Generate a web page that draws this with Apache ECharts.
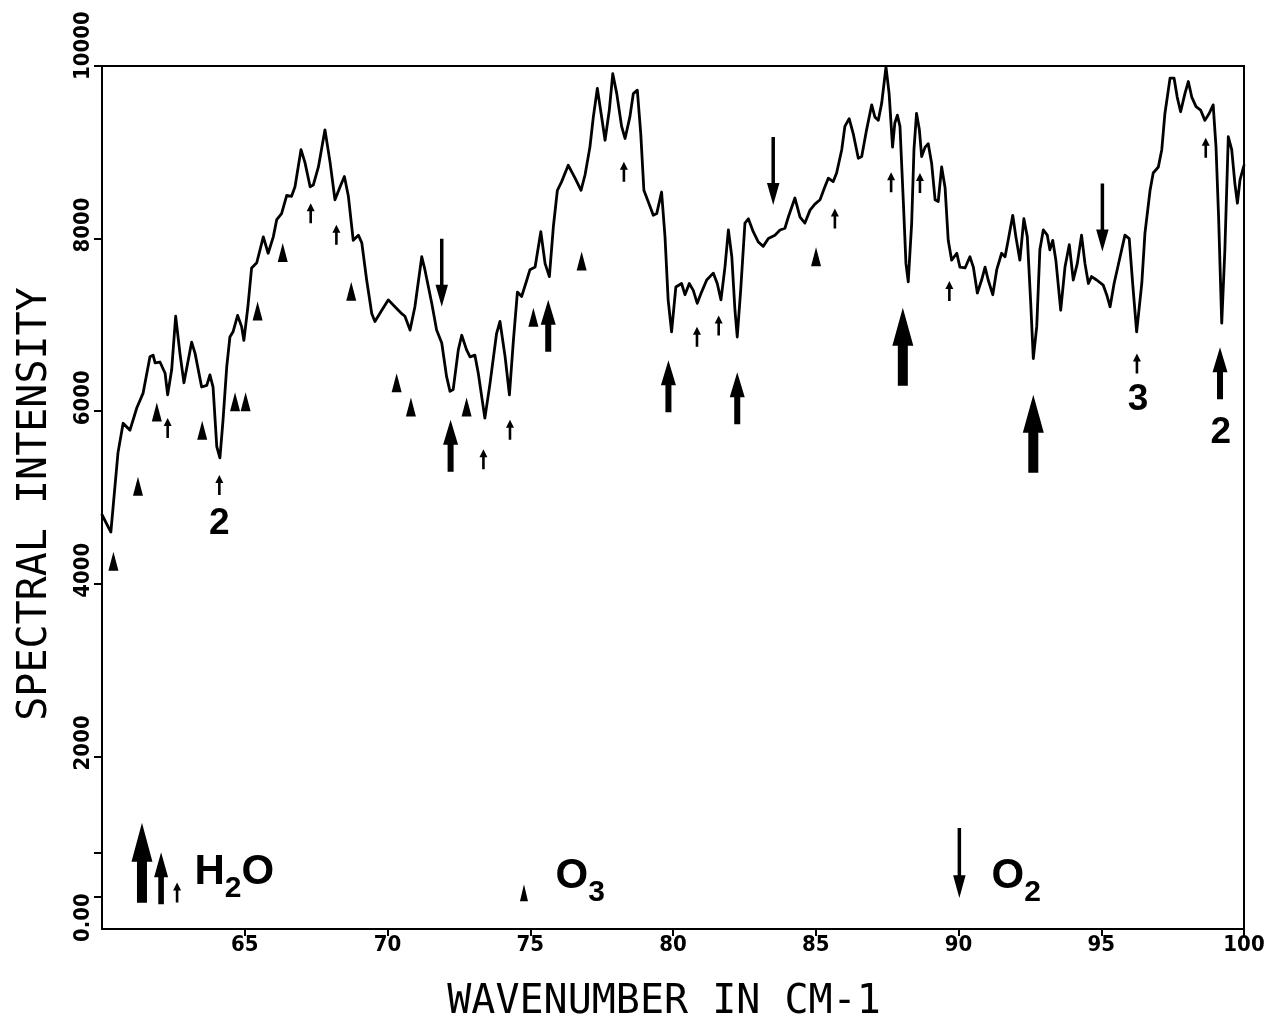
<!DOCTYPE html>
<html>
<head>
<meta charset="utf-8">
<script src="https://cdn.jsdelivr.net/npm/echarts@6/dist/echarts.min.js"></script>
<style>
  html, body { margin: 0; padding: 0; background: #ffffff; }
  #chart { width: 1270px; height: 1021px; }
</style>
</head>
<body>
<div id="chart"></div>
<script>
// Measured spectrum: wavenumber (cm-1) and spectral intensity
const wavenumber = [
  60.00,60.31,60.56,60.74,60.98,61.22,61.44,61.68,61.79,61.86,
  62.03,62.21,62.30,62.44,62.58,62.73,62.87,63.14,63.26,63.49,
  63.67,63.78,63.89,64.02,64.13,64.24,64.37,64.48,64.59,64.75,
  64.89,64.97,65.11,65.24,65.42,65.65,65.82,66.00,66.12,66.29,
  66.47,66.64,66.76,66.97,67.11,67.29,67.40,67.58,67.81,67.99,
  68.16,68.34,68.49,68.63,68.80,68.98,69.10,69.27,69.45,69.56,
  69.80,70.03,70.26,70.50,70.61,70.79,70.96,71.20,71.31,71.55,
  71.72,71.90,72.07,72.19,72.30,72.48,72.60,72.77,72.89,73.06,
  73.18,73.41,73.59,73.82,73.94,74.12,74.27,74.41,74.55,74.70,
  74.88,74.99,75.17,75.37,75.52,75.67,75.81,75.95,76.10,76.33,
  76.57,76.78,76.92,77.09,77.21,77.35,77.50,77.62,77.77,77.89,
  78.03,78.20,78.32,78.49,78.61,78.75,78.87,78.98,79.13,79.31,
  79.43,79.60,79.72,79.83,79.95,80.10,80.30,80.42,80.57,80.71,
  80.85,81.00,81.18,81.41,81.55,81.68,81.82,81.94,82.06,82.17,
  82.25,82.37,82.52,82.64,82.81,82.99,83.16,83.34,83.57,83.75,
  83.92,84.04,84.27,84.45,84.62,84.80,84.97,85.15,85.32,85.44,
  85.61,85.73,85.91,86.02,86.17,86.31,86.49,86.61,86.78,86.96,
  87.07,87.19,87.31,87.46,87.57,87.69,87.77,87.86,87.95,88.07,
  88.16,88.24,88.36,88.44,88.53,88.63,88.71,88.83,88.94,89.06,
  89.18,89.29,89.41,89.53,89.64,89.76,89.94,90.05,90.23,90.40,
  90.52,90.66,90.81,90.93,91.04,91.20,91.34,91.51,91.63,91.74,
  91.90,92.01,92.15,92.29,92.41,92.53,92.62,92.74,92.85,92.97,
  93.11,93.20,93.30,93.41,93.58,93.73,93.88,94.02,94.16,94.31,
  94.43,94.55,94.66,94.84,95.07,95.19,95.31,95.45,95.66,95.83,
  95.98,96.10,96.24,96.42,96.53,96.71,96.82,97.00,97.12,97.23,
  97.41,97.55,97.66,97.78,97.93,98.05,98.17,98.32,98.48,98.63,
  98.78,98.92,99.02,99.11,99.22,99.33,99.45,99.57,99.68,99.77,
  99.86,100.00
];
const intensity = [
  4800,4600,5520,5860,5780,6040,6210,6630,6650,6560,
  6570,6440,6190,6480,7100,6670,6330,6800,6670,6280,
  6300,6420,6280,5590,5460,5900,6520,6860,6920,7110,
  6980,6820,7210,7660,7720,8020,7830,8020,8220,8290,
  8500,8490,8600,9030,8880,8600,8620,8830,9260,8880,
  8450,8600,8720,8490,7980,8040,7950,7520,7130,7040,
  7170,7290,7210,7130,7100,6940,7210,7790,7640,7250,
  6940,6790,6400,6230,6250,6710,6880,6710,6630,6650,
  6440,5920,6320,6900,7040,6630,6190,6820,7380,7330,
  7520,7640,7670,8080,7710,7560,8140,8560,8660,8850,
  8700,8560,8740,9060,9410,9740,9410,9140,9490,9910,
  9680,9300,9160,9410,9680,9720,9220,8560,8430,8270,
  8290,8540,8020,7290,6920,7440,7480,7350,7480,7400,
  7250,7380,7520,7600,7480,7290,7670,8100,7790,7170,
  6860,7400,8180,8230,8080,7960,7910,8000,8040,8100,
  8120,8250,8470,8250,8180,8330,8400,8450,8600,8700,
  8660,8760,9030,9300,9390,9220,8930,8950,9260,9550,
  9410,9370,9570,9990,9680,9060,9340,9430,9300,8410,
  7710,7500,8180,9030,9450,9260,8950,9060,9100,8870,
  8450,8430,8830,8590,7980,7750,7830,7670,7660,7790,
  7670,7370,7520,7670,7520,7350,7640,7830,7790,7980,
  8270,8020,7750,8230,8020,7250,6610,6980,7870,8100,
  8040,7870,7980,7750,7170,7670,7930,7520,7710,8040,
  7710,7480,7560,7520,7460,7350,7210,7480,7790,8040,
  8000,7480,6920,7480,8060,8560,8760,8830,9030,9450,
  9860,9860,9640,9470,9680,9820,9640,9530,9490,9370,
  9450,9550,9060,8250,7020,7870,9180,9030,8640,8410,
  8680,8850
];

// Intensity axis: tick positions and labelled values
const yTickValues = [370, 880, 2000, 4000, 6000, 8000, 10000];
const yLabelValues = [370, 2000, 4000, 6000, 8000, 10000];
const yLabelText = ['0.00', '2000', '4000', '6000', '8000', '10000'];

// Line identifications, [wavenumber, intensity at the arrow tip]
const h2oStrong = [[88.05, 7200], [92.62, 6190]];
const h2oMedium = [[72.21, 5900], [75.63, 7290], [79.84, 6590], [82.25, 6450], [99.16, 6740]];
const h2oWeak = [
  [62.30, 5920], [64.11, 5260], [67.31, 8410], [68.21, 8160], [73.36, 5560],
  [74.29, 5900], [78.28, 8890], [80.84, 6980], [81.60, 7110], [85.67, 8350],
  [87.64, 8770], [88.65, 8760], [89.68, 7510], [96.25, 6670], [98.66, 9170]
];
// O3 lines, [wavenumber, intensity at the marker centre]
const o3Lines = [
  [60.40, 4260], [61.26, 5130], [61.92, 5990], [63.51, 5780], [64.66, 6110],
  [65.03, 6110], [65.45, 7160], [66.33, 7840], [68.73, 7390], [70.32, 6330],
  [70.82, 6050], [72.77, 6050], [75.11, 7090], [76.80, 7740], [85.01, 7790]
];
// O2 lines, [wavenumber, intensity at the arrow tip]
const o2Lines = [[71.90, 7210], [83.51, 8390], [95.04, 7850]];

// Order numbers written under some arrows
const orderPos = [[64.11, 4690], [96.29, 6130], [99.19, 5750]];
const orderText = ['2', '3', '2'];

// Key at the foot of the plot
const keyStrong = [[61.40, 1230]];
const keyMedium = [[62.07, 890]];
const keyWeak = [[62.63, 540]];
const keyO3 = [[74.78, 420]];
const keyO2 = [[90.03, 360]];
const speciesPos = [[63.22, 650], [75.87, 610], [91.14, 610]];
const speciesNames = ['H₂O', 'O₃', 'O₂'];

const TICK_FONT = '"DejaVu Sans Condensed", "DejaVu Sans", sans-serif';
const TITLE_FONT = '"DejaVu Sans Mono", monospace';
const BOLD_FONT = '"Liberation Sans", Arial, sans-serif';

const ARROW_LARGE = 'path://M10.5,0L21,38L15.5,38L15.5,78L5.5,78L5.5,38L0,38Z';
const ARROW_MEDIUM = 'path://M7.5,0L15,25L10.5,25L10.5,52L4.5,52L4.5,25L0,25Z';
const ARROW_SMALL = 'path://M4,0L8,8L5.3,8L5.3,20L2.7,20L2.7,8L0,8Z';
const ARROW_DOWN = 'path://M4.5,0L8,0L8,46L12.5,46L6.25,68L0,46L4.5,46Z';

function markSeries(data, symbol, size, offset) {
  return {
    type: 'scatter',
    data: data,
    symbol: symbol,
    symbolSize: size,
    symbolOffset: offset || [0, 0],
    symbolKeepAspect: false,
    itemStyle: { color: '#000', opacity: 1 },
    silent: true,
    animation: false,
    z: 4
  };
}

// Turn subscript digits into rich-text fragments
function richFormula(name) {
  const subs = '₀₁₂₃₄₅₆₇₈₉';
  let out = '';
  for (const ch of name) {
    const k = subs.indexOf(ch);
    out += k >= 0 ? '{s|' + k + '}' : '{m|' + ch + '}';
  }
  return out;
}

const chart = echarts.init(document.getElementById('chart'), null, { renderer: 'canvas' });

chart.setOption({
  animation: false,
  backgroundColor: '#ffffff',
  grid: {
    left: 102, right: 26, top: 66, bottom: 92,
    show: true, borderColor: '#000', borderWidth: 2,
    outerBoundsMode: 'none'
  },
  xAxis: {
    type: 'value', min: 60, max: 100, interval: 5,
    axisLine: { show: true, onZero: false, lineStyle: { color: '#000', width: 2 } },
    axisTick: { show: true, length: 7, lineStyle: { color: '#000', width: 2 } },
    axisLabel: {
      showMinLabel: false, margin: 5, color: '#000',
      fontFamily: TICK_FONT, fontWeight: 'bold', fontSize: 22
    },
    splitLine: { show: false },
    name: 'WAVENUMBER IN CM-1', nameLocation: 'middle', nameGap: 54,
    nameTextStyle: {
      fontFamily: TITLE_FONT, fontSize: 40, color: '#000', lineHeight: 40,
      padding: [0, 18, 0, 0]
    }
  },
  yAxis: {
    type: 'value', min: 0, max: 10000,
    axisLine: { show: true, lineStyle: { color: '#000', width: 2 } },
    axisTick: { show: true, length: 8, customValues: yTickValues, lineStyle: { color: '#000', width: 2 } },
    axisLabel: {
      customValues: yLabelValues, rotate: 90, align: 'left', margin: 8,
      padding: [0, 0, 0, -14], color: '#000',
      fontFamily: TICK_FONT, fontWeight: 'bold', fontSize: 22,
      formatter: function (v) {
        const i = yLabelValues.indexOf(v);
        const t = i >= 0 ? yLabelText[i] : String(v);
        return v === yLabelValues[0] ? '{z|' + t + '}' : t;
      },
      rich: {
        z: { padding: [0, 0, 0, -31], fontFamily: TICK_FONT, fontWeight: 'bold', fontSize: 22, color: '#000' }
      }
    },
    splitLine: { show: false },
    name: 'SPECTRAL INTENSITY', nameLocation: 'middle', nameGap: 46,
    nameTextStyle: {
      fontFamily: TITLE_FONT, fontSize: 40, color: '#000', lineHeight: 40,
      padding: [0, 13, 0, 0]
    }
  },
  series: [
    {
      type: 'line',
      data: wavenumber.map((w, i) => [w, intensity[i]]),
      showSymbol: false, symbol: 'none', smooth: false,
      lineStyle: { color: '#000', width: 2.8, join: 'round', cap: 'round' },
      silent: true, z: 3
    },
    markSeries(h2oStrong, ARROW_LARGE, [21, 78], [0, '50%']),
    markSeries(h2oMedium, ARROW_MEDIUM, [15, 52], [0, '50%']),
    markSeries(h2oWeak, ARROW_SMALL, [8, 20], [0, '50%']),
    markSeries(o3Lines, 'triangle', [10, 19]),
    markSeries(o2Lines, ARROW_DOWN, [12.5, 68], [0, '-50%']),
    markSeries(keyStrong, ARROW_LARGE, [21, 80], [0, '50%']),
    markSeries(keyMedium, ARROW_MEDIUM, [14, 52], [0, '50%']),
    markSeries(keyWeak, ARROW_SMALL, [8, 20], [0, '50%']),
    markSeries(keyO3, 'triangle', [8, 17]),
    markSeries(keyO2, ARROW_DOWN, [12.5, 70], [0, '-50%']),
    {
      type: 'scatter', silent: true, z: 5,
      symbolSize: 1, itemStyle: { color: 'rgba(0,0,0,0)', opacity: 1 },
      data: orderPos.map((p, i) => ({ value: p, name: orderText[i] })),
      label: {
        show: true, position: 'inside', formatter: '{b}', opacity: 1,
        fontFamily: BOLD_FONT, fontWeight: 'bold', fontSize: 37, color: '#000'
      }
    },
    {
      type: 'scatter', silent: true, z: 5,
      symbolSize: 1, itemStyle: { color: 'rgba(0,0,0,0)', opacity: 1 },
      data: speciesPos.map((p, i) => ({ value: p, name: speciesNames[i] })),
      label: {
        show: true, position: 'right', distance: 0, opacity: 1,
        formatter: (p) => richFormula(p.name),
        rich: {
          m: { fontFamily: BOLD_FONT, fontWeight: 'bold', fontSize: 42, color: '#000', lineHeight: 70 },
          s: { fontFamily: BOLD_FONT, fontWeight: 'bold', fontSize: 30, color: '#000', verticalAlign: 'top', padding: [36, 0, 0, 0] }
        }
      }
    }
  ]
});
</script>
</body>
</html>
